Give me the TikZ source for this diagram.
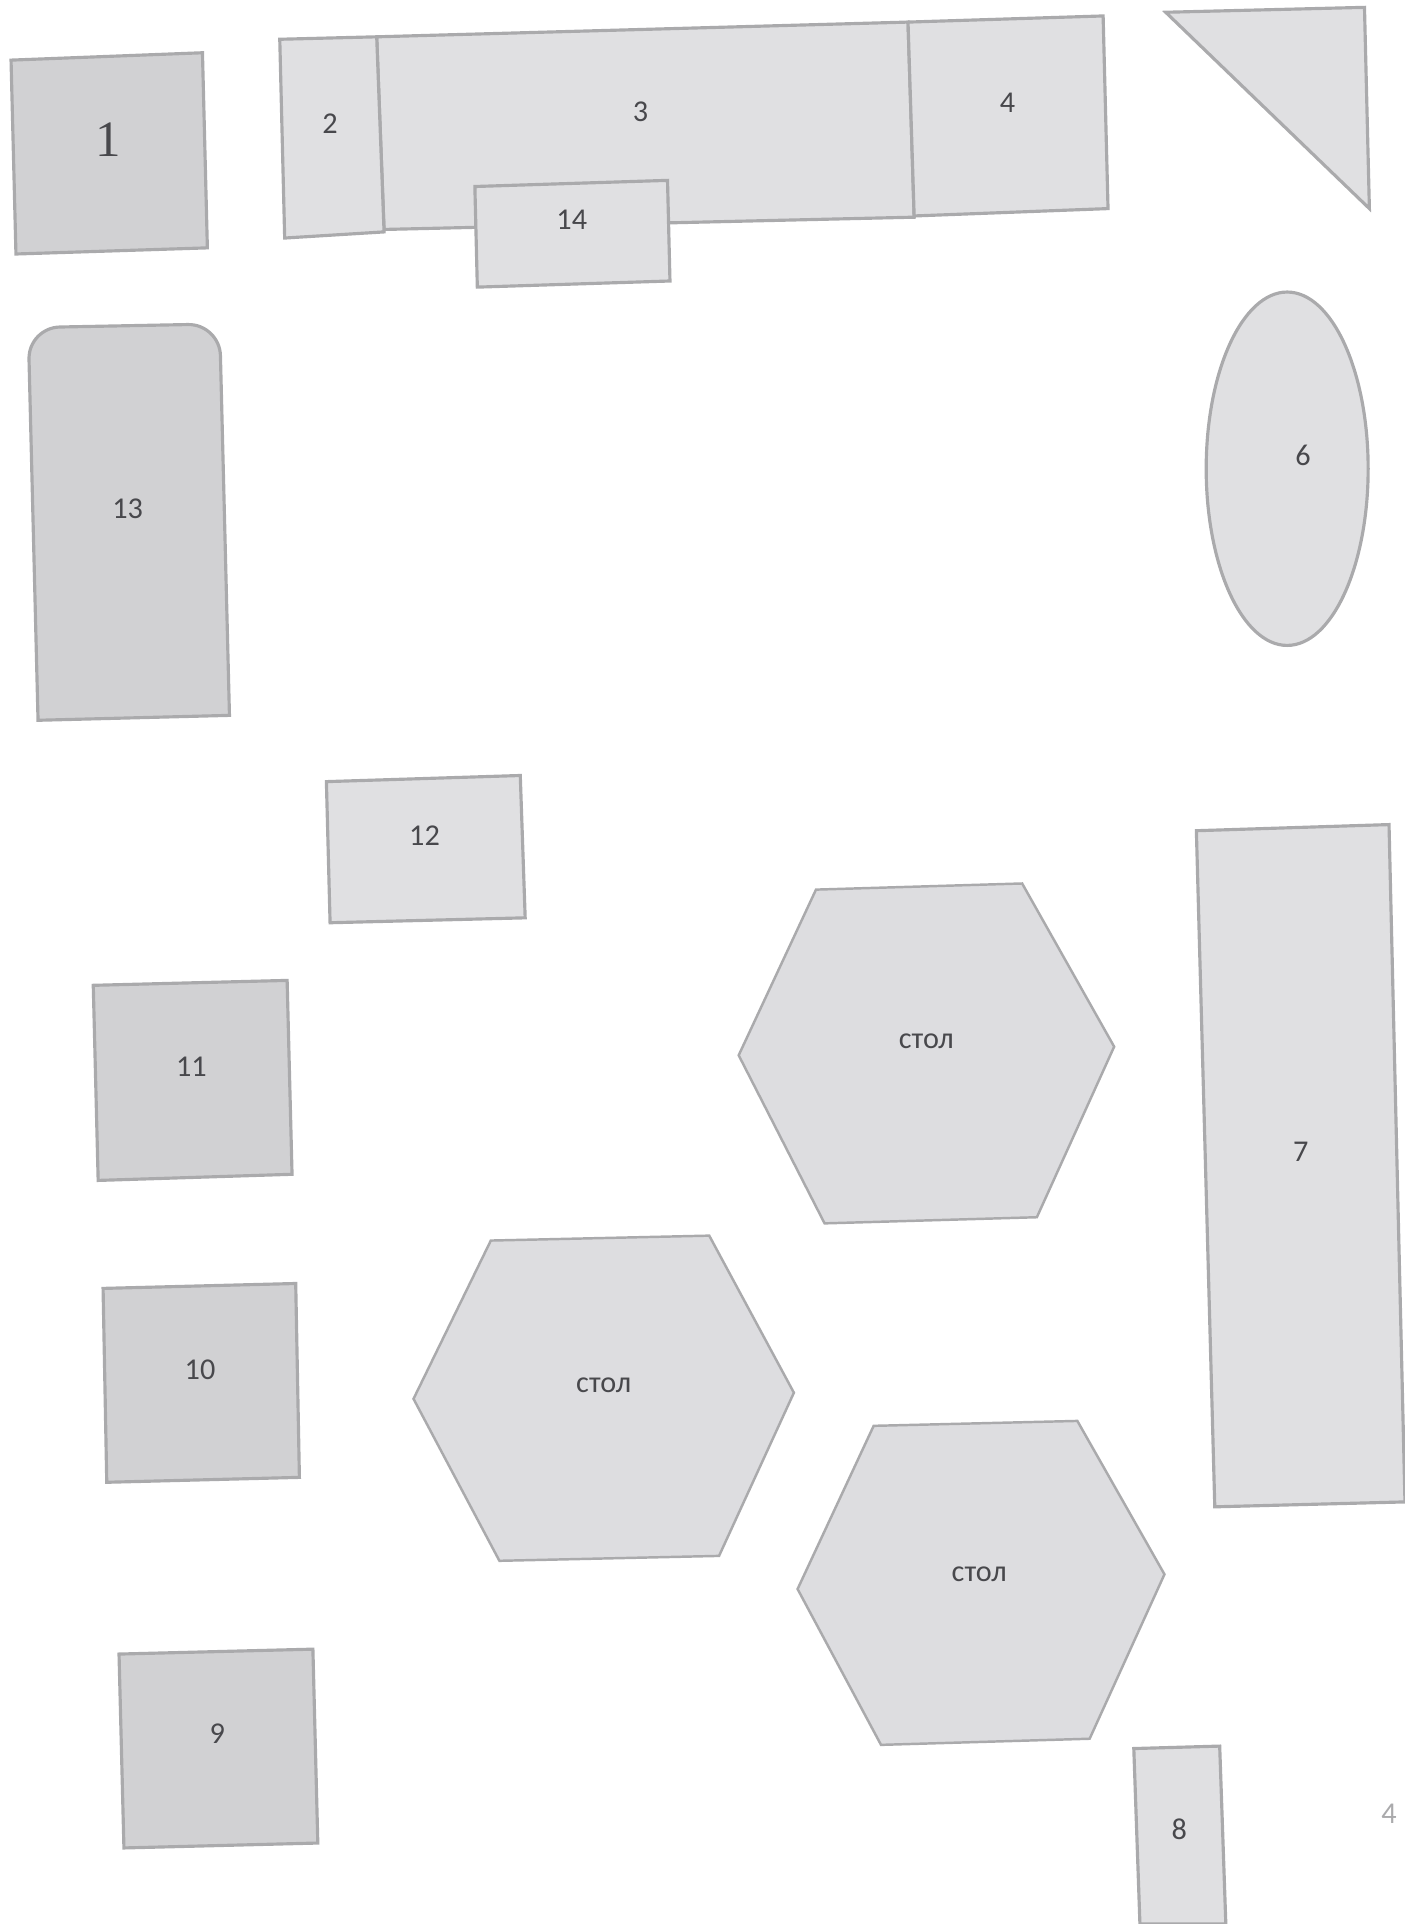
\documentclass[tikz,border=0pt]{standalone}
\usepackage{fontspec}
\setmainfont{Carlito}
\newfontfamily\onefont{Liberation Serif}
\usepackage{xcolor}
\definecolor{roomfill}   {RGB}{224,224,226}
\definecolor{roomdark}   {RGB}{209,209,211}
\definecolor{tablefill}  {RGB}{221,221,224}
\definecolor{roomedge}   {RGB}{170,170,172}
\definecolor{labelgray}  {RGB}{72 ,72 ,76 }

\begin{document}
\begin{tikzpicture}[
  x=0.012271cm, y=-0.012271cm,
  every node/.style={font=\fontsize{8.6}{10}\selectfont, text=labelgray, align=center},
  room/.style={draw=roomedge, fill=roomfill, line width=0.9pt, line join=miter},
  darkroom/.style={room, fill=roomdark},
  tablebox/.style={room, fill=tablefill, line width=0.7pt}
]
  \useasboundingbox (0,0) rectangle (1145,1568);

  % Shapes
  \draw [darkroom] (9,49) -- (165,43) -- (169,202) -- (13,207) -- cycle;
  \draw [room] (307,30) -- (740,18) -- (745,177) -- (313,187) -- cycle;
  \draw [room] (228,32) -- (307,30) -- (313,189) -- (232,194) -- cycle;
  \draw [room] (740,18) -- (899,13) -- (903,170) -- (745,176) -- cycle;
  \draw [room] (387,152) -- (544,147) -- (546,229) -- (389,234) -- cycle;
  \draw [room] (950,10) -- (1112,6) -- (1116,170) -- cycle;
  \draw [room] (1049,382) ellipse [x radius=66, y radius=144];
  \draw [darkroom] (31,587) [rounded corners=9pt] -- (23,267) -- (179,264) [sharp corners] -- (187,583) -- cycle;
  \draw [room] (266,637) -- (424,632) -- (428,748) -- (269,752) -- cycle;
  \draw [darkroom] (76,803) -- (234,799) -- (238,957) -- (80,962) -- cycle;
  \draw [darkroom] (84,1050) -- (241,1046) -- (244,1204) -- (87,1208) -- cycle;
  \draw [darkroom] (97,1348) -- (255,1344) -- (259,1502) -- (101,1506) -- cycle;
  \draw [room] (975,677) -- (1132,672) -- (1145,1224) -- (990,1228) -- cycle;
  \draw [room] (924,1425) -- (994,1423) -- (999,1568) -- (929,1568) -- cycle;

  % Tables
  \draw [tablebox] (665,725) -- (833,720) -- (908,853) -- (845,992) -- (672,997) -- (602,860) -- cycle;
  \draw [tablebox] (400,1011) -- (578,1007) -- (647,1135) -- (586,1268) -- (407,1272) -- (337,1140) -- cycle;
  \draw [tablebox] (712,1162) -- (878,1158) -- (949,1283) -- (888,1417) -- (718,1422) -- (650,1295) -- cycle;

  % Labels
  \node (one) [font=\onefont\fontsize{14.5}{16}\selectfont] at (88,114) {1};
  \node (two) at (269,101) {2};
  \node (three) at (522,91) {3};
  \node (four) at (821,84) {4};
  \node (six) at (1062,371) {6};
  \node (seven) at (1060,939) {7};
  \node (eight) at (961,1491) {8};
  \node (nine) at (177,1413) {9};
  \node (ten) at (163,1116) {10};
  \node (eleven) at (156,869) {11};
  \node (twelve) at (346,681) {12};
  \node (thirteen) at (104,415) {13};
  \node (fourteen) at (466,179) {14};
  \node (tableA) at (755,849) {стол};
  \node (tableB) at (492,1129) {стол};
  \node (tableC) at (798,1283) {стол};
  \node (pagenum) [text=roomedge] at (1132,1478) {4};
\end{tikzpicture}
\end{document}
